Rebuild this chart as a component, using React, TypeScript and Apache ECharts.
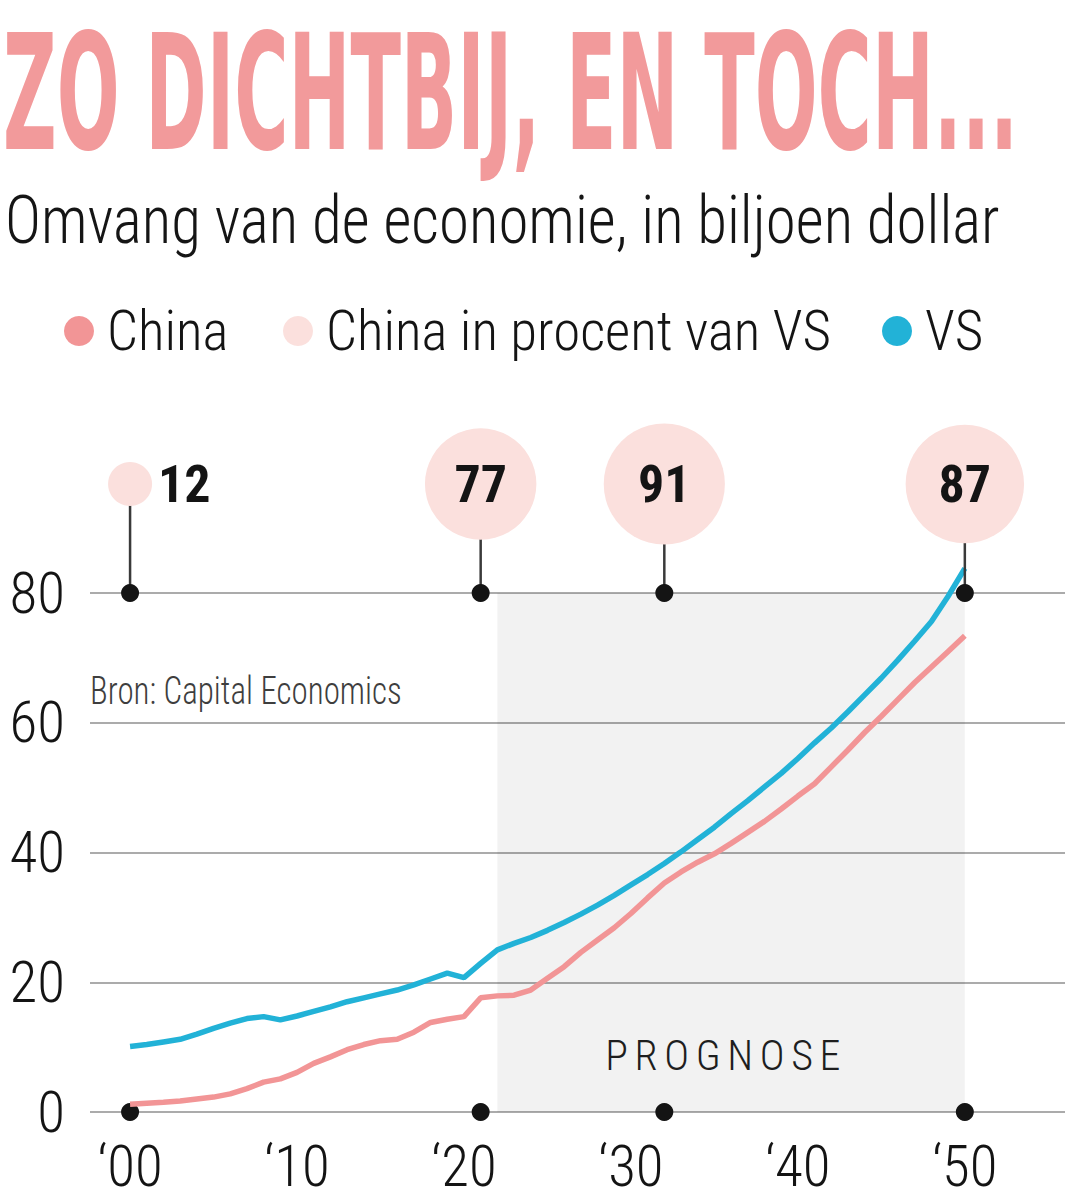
import React, { useEffect, useRef } from 'react';
import * as echarts from 'echarts';

// ---------- data ----------
const START_YEAR = 2000;
// China, GDP in trillion dollar (2000 .. 2050)
const CHINA = [
  1.2, 1.35, 1.5, 1.7, 2.0, 2.3, 2.8, 3.6, 4.6, 5.1,
  6.1, 7.5, 8.5, 9.6, 10.4, 11.0, 11.2, 12.3, 13.8, 14.3,
  14.7, 17.6, 17.9, 18.0, 18.8, 20.6, 22.4, 24.6, 26.5, 28.4,
  30.6, 33.0, 35.3, 37.0, 38.5, 39.8, 41.4, 43.1, 44.8, 46.7,
  48.7, 50.6, 53.2, 55.8, 58.5, 61.0, 63.6, 66.2, 68.6, 71.0,
  73.4,
];
// VS (United States), GDP in trillion dollar (2000 .. 2050)
const VS = [
  10.1, 10.4, 10.8, 11.2, 12.0, 12.9, 13.7, 14.4, 14.7, 14.2,
  14.8, 15.5, 16.2, 17.0, 17.6, 18.2, 18.8, 19.6, 20.5, 21.4,
  20.7, 22.9, 25.0, 26.0, 26.9, 28.0, 29.2, 30.5, 31.9, 33.4,
  35.0, 36.6, 38.3, 40.1, 42.0, 43.9, 46.0, 48.0, 50.1, 52.2,
  54.5, 56.9, 59.2, 61.7, 64.3, 66.9, 69.7, 72.6, 75.6, 79.5,
  83.8,
];
// China as percentage of VS
const PCT_YEARS = [2000, 2021, 2032, 2050];
const PCT_VALUES = [12, 77, 91, 87];

const X_TICKS = [2000, 2010, 2020, 2030, 2040, 2050];
const PROGNOSE_FROM = 2022;
const PROGNOSE_TO = 2050;

const TITLE = 'ZO DICHTBIJ, EN TOCH...';
const SUBTITLE = 'Omvang van de economie, in biljoen dollar';
const SOURCE = 'Bron: Capital Economics';
const PROGNOSE = 'PROGNOSE';
const NAME_CHINA = 'China';
const NAME_PCT = 'China in procent van VS';
const NAME_VS = 'VS';

// ---------- layout / style ----------
const W = 1065;
const H = 1200;
const NARROW = "'Roboto Condensed', 'Liberation Sans Narrow', 'DejaVu Sans Condensed', sans-serif";
const TITLE_FONT = "'DejaVu Sans Condensed', 'DejaVu Sans', sans-serif";
const LIGHT = 300;
const PINK = '#F29596';
const TITLE_PINK = '#F29A9B';
const LIGHT_PINK = '#FBE0DD';
const BLUE = '#22B2D7';
const INK = '#141414';
const Y_MAX = 80;
const BUBBLE_ROW = 96.8; // bubble row, in axis units above the 80 line
const LEGEND_LEFT = [64, 283, 882];

function measure(text: string, font: string): number {
  const ctx = document.createElement('canvas').getContext('2d');
  if (!ctx) return 1;
  ctx.font = font;
  return ctx.measureText(text).width || 1;
}

function fitText(
  text: string, x: number, y: number, size: number, weight: string | number,
  fill: string, targetW: number, family: string,
) {
  const natural = measure(text, `${weight} ${size}px ${family}`);
  return {
    type: 'text',
    x,
    y,
    scaleX: targetW / natural,
    silent: true,
    style: {
      text,
      fill,
      fontSize: size,
      fontWeight: weight,
      fontFamily: family,
      align: 'left',
      textAlign: 'left',
      verticalAlign: 'middle',
      textVerticalAlign: 'middle',
    },
  };
}

export default function App() {
  const ref = useRef<HTMLDivElement>(null);

  useEffect(() => {
    if (!ref.current) return;
    const chart = echarts.init(ref.current, undefined, { renderer: 'svg' });

    const years = CHINA.map((_, i) => START_YEAR + i);
    const chinaData = years.map((y, i) => [y, CHINA[i]]);
    const vsData = years.map((y, i) => [y, VS[i]]);

    // legend font size chosen so that the long legend entry fits its slot
    const legendSize = Math.min(60, 57 * 505 / measure(NAME_PCT, `${LIGHT} 57px ${NARROW}`));
    const legendText = {
      fontFamily: NARROW, fontWeight: LIGHT, fontSize: legendSize, color: INK,
      lineHeight: 60, padding: [0, 0, 0, 8],
    };

    const option: any = {
      animation: false,
      backgroundColor: '#ffffff',
      grid: { left: 90, right: 0, top: 593, bottom: 88 },
      xAxis: {
        type: 'value',
        min: 1997.6,
        max: 2056,
        splitLine: { show: false },
        axisLine: { show: false },
        axisTick: { show: false },
        axisLabel: {
          customValues: X_TICKS,
          formatter: (v: number) => '\u2018' + String(v).slice(2),
          fontFamily: NARROW,
          fontWeight: LIGHT,
          fontSize: 57,
          lineHeight: 56,
          color: INK,
          margin: 26,
        },
      },
      yAxis: {
        type: 'value',
        min: 0,
        max: Y_MAX,
        interval: 20,
        axisLine: { show: false },
        axisTick: { show: false },
        axisLabel: { fontFamily: NARROW, fontWeight: LIGHT, fontSize: 57, color: INK, margin: 25 },
        splitLine: { lineStyle: { color: '#ABABAB', width: 2 } },
      },
      legend: [NAME_CHINA, NAME_PCT, NAME_VS].map((name, i) => ({
        data: [name],
        left: LEGEND_LEFT[i],
        top: 301,
        padding: 0,
        icon: 'circle',
        itemWidth: 30,
        itemHeight: 30,
        selectedMode: false,
        textStyle: legendText,
      })),
      graphic: [
        fitText(TITLE, 3, 93.6, 160, 'bold', TITLE_PINK, 1015, TITLE_FONT),
        fitText(SUBTITLE, 5, 221, 67, LIGHT, '#151515', 995, NARROW),
        fitText(SOURCE, 90, 691, 39, LIGHT, '#3E3E3E', 312, NARROW),
      ],
      series: [
        {
          // dots on the zero line + prognosis shading
          type: 'scatter',
          data: PCT_YEARS.map((y) => [y, 0]),
          symbolSize: 18,
          itemStyle: { color: INK, opacity: 1 },
          z: 1,
          clip: false,
          silent: true,
          markArea: {
            silent: true,
            itemStyle: { color: 'rgba(0,0,0,0.05)' },
            label: {
              show: true,
              position: [108, 462],
              align: 'left',
              verticalAlign: 'middle',
              fontFamily: NARROW,
              fontWeight: LIGHT,
              fontSize: 42,
              color: '#1E1E1E',
              formatter: PROGNOSE,
            },
            data: [[{ xAxis: PROGNOSE_FROM, yAxis: 0 }, { xAxis: PROGNOSE_TO, yAxis: Y_MAX }]],
          },
        },
        {
          name: NAME_CHINA,
          type: 'line',
          data: chinaData,
          showSymbol: false,
          symbol: 'none',
          clip: false,
          lineStyle: { color: PINK, width: 5.5 },
          itemStyle: { color: PINK },
          z: 3,
        },
        {
          name: NAME_VS,
          type: 'line',
          data: vsData,
          showSymbol: false,
          symbol: 'none',
          clip: false,
          lineStyle: { color: BLUE, width: 5.5 },
          itemStyle: { color: BLUE },
          z: 4,
        },
        {
          // stems from the 80 line up to the bubbles
          type: 'custom',
          data: PCT_YEARS.map((y) => [y, Y_MAX]),
          clip: false,
          silent: true,
          z: 5,
          renderItem: (_params: any, api: any) => {
            const x = api.value(0);
            const p0 = api.coord([x, Y_MAX]);
            const p1 = api.coord([x, BUBBLE_ROW]);
            return {
              type: 'line',
              shape: { x1: p0[0], y1: p0[1], x2: p1[0], y2: p1[1] },
              style: { stroke: '#3A3A3A', lineWidth: 2.5 },
            };
          },
        },
        {
          type: 'scatter',
          data: PCT_YEARS.map((y) => [y, Y_MAX]),
          symbolSize: 18,
          itemStyle: { color: INK, opacity: 1 },
          z: 6,
          clip: false,
          silent: true,
        },
        {
          name: NAME_PCT,
          type: 'scatter',
          data: PCT_YEARS.map((y, i) => ({
            value: [y, BUBBLE_ROW, PCT_VALUES[i]],
            label: { position: PCT_VALUES[i] < 30 ? 'right' : 'inside' },
          })),
          symbolSize: (v: number[]) => 12.7 * Math.sqrt(v[2]),
          itemStyle: { color: LIGHT_PINK, opacity: 1 },
          z: 7,
          clip: false,
          silent: true,
          label: {
            show: true,
            formatter: (p: any) => String(p.value[2]),
            fontFamily: NARROW,
            fontWeight: 'bold',
            fontSize: 52,
            color: INK,
            distance: 6,
          },
        },
      ],
    };

    chart.setOption(option);

    // letter spacing for the "PROGNOSE" label (not supported natively)
    const natural = measure(PROGNOSE, `${LIGHT} 42px ${NARROW}`);
    const spacing = Math.max(0, (235 - natural) / (PROGNOSE.length - 1));
    ref.current.querySelectorAll('text').forEach((t) => {
      if (t.textContent === PROGNOSE) t.setAttribute('letter-spacing', String(spacing));
    });

    return () => chart.dispose();
  }, []);

  return (
    <div
      ref={ref}
      style={{ position: 'absolute', left: 0, top: 0, width: W, height: H, background: '#fff' }}
    />
  );
}
